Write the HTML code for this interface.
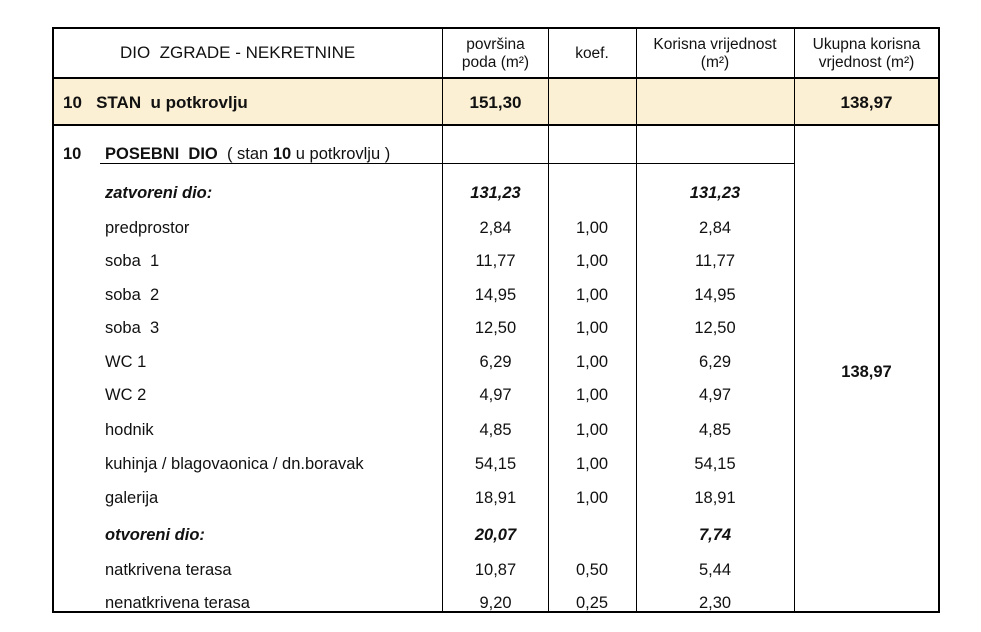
<!DOCTYPE html>
<html><head><meta charset="utf-8"><style>
body{margin:0;background:#fff;width:981px;height:632px;position:relative;font-family:"Liberation Sans",Arial,sans-serif;color:#111;overflow:hidden}
.l{position:absolute;background:#000}
.t{position:absolute;font-size:16.5px;white-space:nowrap}
.c{position:absolute;font-size:16.5px;text-align:center;white-space:nowrap}
.b{font-weight:bold}.i{font-style:italic;font-weight:bold}
</style></head><body>
<div style="position:absolute;left:53px;top:78px;width:886px;height:47px;background:#fcf0d4"></div>
<div class="l" style="left:52px;top:27px;width:888px;height:2px"></div>
<div class="l" style="left:52px;top:611px;width:888px;height:2px"></div>
<div class="l" style="left:52px;top:27px;width:2px;height:586px"></div>
<div class="l" style="left:938px;top:27px;width:2px;height:586px"></div>
<div class="l" style="left:52px;top:77px;width:888px;height:2px"></div>
<div class="l" style="left:52px;top:124px;width:888px;height:2px"></div>
<div class="l" style="left:442px;top:27px;width:1px;height:586px"></div>
<div class="l" style="left:548px;top:27px;width:1px;height:586px"></div>
<div class="l" style="left:636px;top:27px;width:1px;height:586px"></div>
<div class="l" style="left:794px;top:27px;width:1px;height:586px"></div>
<div class="l" style="left:100px;top:163px;width:694px;height:1px"></div>
<div class="t" style="left:120px;top:43px;font-size:17px">DIO&nbsp; ZGRADE - NEKRETNINE</div>
<div class="c" style="left:443px;width:105px;top:36px;font-size:15.5px;line-height:18px">površina<br>poda (m²)</div>
<div class="c" style="left:548px;width:88px;top:45px;font-size:15.5px">koef.</div>
<div class="c" style="left:636px;width:158px;top:36px;font-size:15.5px;line-height:18px">Korisna vrijednost<br>(m²)</div>
<div class="c" style="left:794px;width:145px;top:36px;font-size:15.5px;line-height:18px">Ukupna korisna<br>vrjednost (m²)</div>
<div class="t b" style="left:63px;top:93px;font-size:17px">10&nbsp;&nbsp; STAN&nbsp; u potkrovlju</div>
<div class="c b" style="left:443px;width:105px;top:93px;font-size:17px">151,30</div>
<div class="c b" style="left:794px;width:145px;top:93px;font-size:17px">138,97</div>
<div class="t" style="left:63px;top:145px"><b>10</b></div>
<div class="t" style="left:105px;top:145px"><b>POSEBNI&nbsp; DIO</b>&nbsp; ( stan <b>10</b> u potkrovlju )</div>
<div class="c b" style="left:794px;width:145px;top:363px">138,97</div>
<div id="rows"></div>
<script>
var r=[["zatvoreni dio:","131,23","","131,23",1],["predprostor","2,84","1,00","2,84"],["soba&nbsp; 1","11,77","1,00","11,77"],["soba&nbsp; 2","14,95","1,00","14,95"],["soba&nbsp; 3","12,50","1,00","12,50"],["WC 1","6,29","1,00","6,29"],["WC 2","4,97","1,00","4,97"],["hodnik","4,85","1,00","4,85"],["kuhinja / blagovaonica / dn.boravak","54,15","1,00","54,15"],["galerija","18,91","1,00","18,91"],["otvoreni dio:","20,07","","7,74",1],["natkrivena terasa","10,87","0,50","5,44"],["nenatkrivena terasa","9,20","0,25","2,30"]];
var y=[184,219,252,286,319,353,386,421,455,489,526,561,594],h="";
r.forEach(function(a,k){var c=a[4]?" i":"";h+='<div class="t'+c+'" style="left:105px;top:'+y[k]+'px">'+a[0]+'</div><div class="c'+c+'" style="left:443px;width:105px;top:'+y[k]+'px">'+a[1]+'</div><div class="c" style="left:548px;width:88px;top:'+y[k]+'px">'+a[2]+'</div><div class="c'+c+'" style="left:636px;width:158px;top:'+y[k]+'px">'+a[3]+'</div>';});
document.getElementById("rows").innerHTML=h;
</script>
</body></html>
